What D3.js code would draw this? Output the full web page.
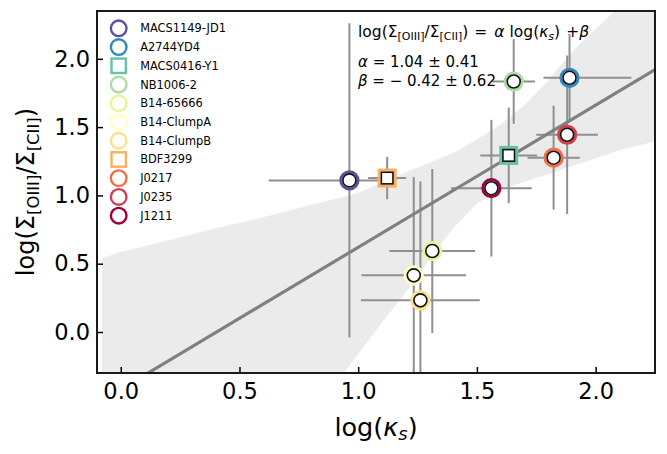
<!DOCTYPE html>
<html>
<head>
<meta charset="utf-8">
<script src="https://cdn.jsdelivr.net/npm/d3@7"></script>
<style>
  body { margin: 0; background: #fff; }
  text { font-family: "DejaVu Sans", sans-serif; fill: #000; }
</style>
</head>
<body>
<svg id="chart"></svg>
<script>
// galaxies and their colours (Spectral, reversed)
const names = ["MACS1149-JD1", "A2744YD4", "MACS0416-Y1", "NB1006-2", "B14-65666",
  "B14-ClumpA", "B14-ClumpB", "BDF3299", "J0217", "J0235", "J1211"];
const colors = ["#5e4fa2", "#3288bd", "#66c2a5", "#abdda4", "#e6f598",
  "#ffffbf", "#fee08b", "#fdae61", "#f46d43", "#d53e4f", "#9e0142"];
const shapes = ["circle", "circle", "square", "circle", "circle",
  "circle", "circle", "square", "circle", "circle", "circle"];

// log(kappa_s) and log(Sigma_OIII / Sigma_CII)
const kappa = [0.963, 1.89, 1.634, 1.655, 1.312, 1.234, 1.262, 1.122, 1.823, 1.88, 1.561];
const ratio = [1.11, 1.861, 1.293, 1.834, 0.593, 0.415, 0.232, 1.127, 1.276, 1.444, 1.053];
const xErrLo = [0.34, 0.11, 0.12, 0.09, 0.18, 0.22, 0.25, 0.08, 0.11, 0.13, 0.17];
const xErrHi = [0.12, 0.26, 0.12, 0.09, 0.18, 0.22, 0.25, 0.08, 0.11, 0.13, 0.17];
const yErrLo = [1.15, 0.32, 0.35, 0.31, 0.60, 0.72, 0.87, 0.155, 0.38, 0.58, 0.50];
const yErrHi = [1.15, 0.32, 0.35, 0.31, 0.60, 0.72, 0.87, 0.155, 0.38, 0.58, 0.50];

// best fit and its confidence band
const alpha = 1.04, beta = -0.42;
const bandX = [-0.08, 0.0, 0.2, 0.4, 0.6, 0.8, 0.94, 1.0, 1.1, 1.2, 1.3, 1.4, 1.5, 1.6, 1.7, 1.8, 1.9, 2.0, 2.1, 2.25];
const bandHi = [0.54, 0.585, 0.67, 0.76, 0.84, 0.93, 0.99, 1.02, 1.09, 1.17, 1.24, 1.31, 1.41, 1.52, 1.66, 1.84, 2.05, 2.22, 2.38, 2.65];
const bandLo = [-1.6, -1.45, -1.2, -0.98, -0.78, -0.55, -0.30, -0.16, 0.07, 0.29, 0.53, 0.76, 0.94, 1.04, 1.10, 1.155, 1.215, 1.27, 1.33, 1.395];

const xTicks = [0.0, 0.5, 1.0, 1.5, 2.0];
const yTicks = [0.0, 0.5, 1.0, 1.5, 2.0];

const width = 667, height = 454;
const pL = 97, pR = 655, pT = 11, pB = 373;

const svg = d3.select("#chart").attr("width", width).attr("height", height);

const x = d3.scaleLinear().domain([-0.1, 2.25]).range([pL, pR]);
const y = d3.scaleLinear().domain([-0.3, 2.35]).range([pB, pT]);

svg.append("clipPath").attr("id", "plot-clip")
  .append("rect")
  .attr("x", pL).attr("y", pT)
  .attr("width", pR - pL).attr("height", pB - pT);

const plot = svg.append("g").attr("clip-path", "url(#plot-clip)");

// confidence band
const area = d3.area()
  .x((d, i) => x(bandX[i]))
  .y0((d, i) => y(bandLo[i]))
  .y1((d, i) => y(bandHi[i]));
plot.append("path")
  .datum(bandX)
  .attr("d", area)
  .style("fill", "#ebebeb");

// error bars
const pts = names.map((n, i) => ({ i: i }));
plot.selectAll(".xerr")
  .data(pts).enter().append("line")
  .attr("x1", d => x(kappa[d.i] - xErrLo[d.i]))
  .attr("x2", d => x(kappa[d.i] + xErrHi[d.i]))
  .attr("y1", d => y(ratio[d.i]))
  .attr("y2", d => y(ratio[d.i]))
  .style("stroke", "#8f8f8f").style("stroke-width", 2);
plot.selectAll(".yerr")
  .data(pts).enter().append("line")
  .attr("x1", d => x(kappa[d.i]))
  .attr("x2", d => x(kappa[d.i]))
  .attr("y1", d => y(ratio[d.i] - yErrLo[d.i]))
  .attr("y2", d => y(ratio[d.i] + yErrHi[d.i]))
  .style("stroke", "#8f8f8f").style("stroke-width", 2);

// fit line
const fitX = [-0.1, 2.25];
plot.append("path")
  .datum(fitX)
  .attr("d", d3.line().x(d => x(d)).y(d => y(alpha * d + beta)))
  .style("fill", "none")
  .style("stroke", "#808080")
  .style("stroke-width", 3.2);

// markers: coloured halo, then white marker with black edge
function marker(g, shape, r) {
  if (shape === "square") {
    return g.append("rect").attr("x", -r).attr("y", -r).attr("width", 2 * r).attr("height", 2 * r);
  }
  return g.append("circle").attr("r", r);
}
pts.forEach(d => {
  const g = plot.append("g")
    .attr("transform", `translate(${x(kappa[d.i])},${y(ratio[d.i])})`);
  const s = shapes[d.i];
  marker(g, s, s === "square" ? 8 : 8.6)
    .style("fill", "white").style("stroke", colors[d.i]).style("stroke-width", 3);
  marker(g, s, s === "square" ? 5.8 : 6.5)
    .style("fill", "white").style("stroke", "#111").style("stroke-width", 1.6);
});

// axes, ticks pointing inward
const xAxis = svg.append("g").attr("transform", `translate(0,${pB})`)
  .call(d3.axisBottom(x).tickValues(xTicks).tickFormat(d3.format(".1f"))
    .tickSizeInner(-6).tickSizeOuter(0).tickPadding(10));
const yAxis = svg.append("g").attr("transform", `translate(${pL},0)`)
  .call(d3.axisLeft(y).tickValues(yTicks).tickFormat(d3.format(".1f"))
    .tickSizeInner(-6).tickSizeOuter(0).tickPadding(7));
[xAxis, yAxis].forEach(a => {
  a.select(".domain").remove();
  a.selectAll(".tick line").style("stroke", "#000").style("stroke-width", 1.5);
  a.selectAll(".tick text").style("font-size", "22.5px")
    .style("font-family", "DejaVu Sans").style("fill", "#000");
});

svg.append("rect")
  .attr("x", pL).attr("y", pT)
  .attr("width", pR - pL).attr("height", pB - pT)
  .style("fill", "none").style("stroke", "#1a1a1a").style("stroke-width", 2);

// axis labels
svg.append("text")
  .attr("x", (pL + pR) / 2).attr("y", 436)
  .attr("text-anchor", "middle").style("font-size", "25.5px")
  .call(t => {
    t.append("tspan").text("log(");
    t.append("tspan").style("font-style", "italic").text("κ");
    t.append("tspan").style("font-style", "italic").style("font-size", "18px").attr("dy", 4).text("s");
    t.append("tspan").attr("dy", -4).text(")");
  });

svg.append("text")
  .attr("transform", `translate(34,${(pT + pB) / 2}) rotate(-90)`)
  .attr("text-anchor", "middle").style("font-size", "24px")
  .call(t => {
    t.append("tspan").text("log(Σ");
    t.append("tspan").style("font-size", "16.5px").attr("dy", 5).text("[OIII]");
    t.append("tspan").attr("dy", -5).text("/Σ");
    t.append("tspan").style("font-size", "16.5px").attr("dy", 5).text("[CII]");
    t.append("tspan").attr("dy", -5).text(")");
  });

// fit annotation
svg.append("text")
  .attr("x", 358).attr("y", 37).style("font-size", "15.5px")
  .call(t => {
    t.append("tspan").text("log(Σ");
    t.append("tspan").style("font-size", "11px").attr("dy", 3).text("[OIII]");
    t.append("tspan").attr("dy", -3).text("/Σ");
    t.append("tspan").style("font-size", "11px").attr("dy", 3).text("[CII]");
    t.append("tspan").attr("dy", -3).text(")");
    t.append("tspan").attr("dx", 6).text("=");
    t.append("tspan").attr("dx", 7).style("font-style", "italic").text("α");
    t.append("tspan").attr("dx", 5).text("log(");
    t.append("tspan").style("font-style", "italic").text("κ");
    t.append("tspan").style("font-style", "italic").style("font-size", "11px").attr("dy", 3).text("s");
    t.append("tspan").attr("dy", -3).text(")");
    t.append("tspan").attr("dx", 6).text("+");
    t.append("tspan").style("font-style", "italic").text("β");
  });
svg.append("text")
  .attr("x", 358).attr("y", 67).style("font-size", "15px")
  .call(t => {
    t.append("tspan").style("font-style", "italic").text("α");
    t.append("tspan").text(" = 1.04 ± 0.41");
  });
svg.append("text")
  .attr("x", 358).attr("y", 86).style("font-size", "15px")
  .call(t => {
    t.append("tspan").style("font-style", "italic").text("β");
    t.append("tspan").text(" =  − 0.42 ± 0.62");
  });

// legend
const legend = svg.append("g");
names.forEach((n, i) => {
  const g = legend.append("g").attr("transform", `translate(118.7,${28.3 + i * 18.74})`);
  marker(g, shapes[i], shapes[i] === "square" ? 7.2 : 7.8)
    .style("fill", "none").style("stroke", colors[i]).style("stroke-width", 2.4);
  g.append("text").attr("x", 21.5).attr("dy", "0.35em")
    .style("font-size", "11.4px").text(n);
});
</script>
</body>
</html>
